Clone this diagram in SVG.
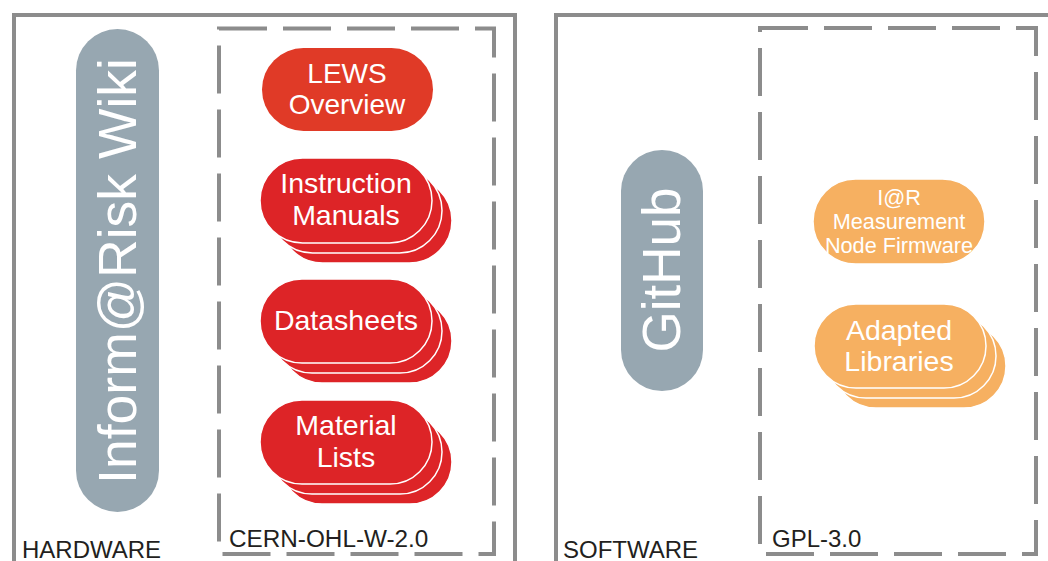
<svg xmlns="http://www.w3.org/2000/svg" width="1048" height="561" viewBox="0 0 1048 561">
<defs>
<style>
.outer{fill:none;stroke:#8c8c8c;stroke-width:4}
.dash{fill:none;stroke:#8c8c8c;stroke-width:4;stroke-dasharray:48 16}
.pill-gray{fill:#97a7b1}
.red{fill:#dd2427;stroke:#ffffff;stroke-width:1.5}
.lews{fill:#e03a27}
.orange{fill:#f6b061;stroke:#ffffff;stroke-width:1.5}
.t{font-family:"Liberation Sans",Arial,sans-serif;fill:#ffffff;text-anchor:middle}
.lbl{font-family:"Liberation Sans",Arial,sans-serif;fill:#231f20;font-size:24px}
</style>
</defs>
<rect width="1048" height="561" fill="#ffffff"/>
<g id="hardware-box">
<rect class="outer" x="14" y="15" width="501" height="600"/>
<text class="lbl" x="22" y="558" font-size="23.5">HARDWARE</text>
</g>
<g id="software-box">
<rect class="outer" x="556" y="15" width="600" height="600"/>
<text class="lbl" x="563" y="558" font-size="23.5">SOFTWARE</text>
</g>
<g id="cern-license">
<rect class="dash" x="219" y="28.5" width="275" height="525.5"/>
<text class="lbl" x="229" y="547" style="font-size:24.3px">CERN-OHL-W-2.0</text>
</g>
<g id="gpl-license">
<rect class="dash" x="760" y="28" width="276" height="526"/>
<text class="lbl" x="772" y="547">GPL-3.0</text>
</g>
<g id="wiki">
<rect class="pill-gray" x="76" y="29" width="83" height="483" rx="41.5"/>
<text class="t" transform="translate(136,271) rotate(-90)" font-size="53.5">Inform@Risk Wiki</text>
</g>
<g id="github">
<rect class="pill-gray" x="621" y="150" width="82" height="241" rx="41"/>
<text class="t" transform="translate(680,270) rotate(-90)" font-size="53">GitHub</text>
</g>
<g id="lews-overview">
<rect class="lews" x="262" y="48" width="171" height="83" rx="41.5"/>
<text class="t" x="347" y="83" font-size="28">LEWS</text>
<text class="t" x="347" y="114" font-size="28">Overview</text>
</g>
<g id="instruction-manuals">
<rect class="red" x="280" y="178" width="172" height="85" rx="42.5"/>
<rect class="red" x="270" y="168" width="172" height="85" rx="42.5"/>
<rect class="red" x="260" y="158" width="172" height="85" rx="42.5"/>
<text class="t" x="346" y="193" font-size="28.5">Instruction</text>
<text class="t" x="346" y="225" font-size="28.5">Manuals</text>
</g>
<g id="datasheets">
<rect class="red" x="280" y="299" width="172" height="84" rx="42"/>
<rect class="red" x="270" y="289" width="172" height="84" rx="42"/>
<rect class="red" x="260" y="279" width="172" height="84" rx="42"/>
<text class="t" x="346" y="330" font-size="28.5">Datasheets</text>
</g>
<g id="material-lists">
<rect class="red" x="280" y="420" width="172" height="84" rx="42"/>
<rect class="red" x="270" y="410" width="172" height="84" rx="42"/>
<rect class="red" x="260" y="400" width="172" height="84" rx="42"/>
<text class="t" x="346" y="435" font-size="28.5">Material</text>
<text class="t" x="346" y="467" font-size="28.5">Lists</text>
</g>
<g id="firmware">
<rect class="orange" x="813" y="179" width="172" height="85" rx="42.5" stroke="none"/>
<text class="t" x="899" y="205" font-size="21.7">I@R</text>
<text class="t" x="899" y="229" font-size="21.7">Measurement</text>
<text class="t" x="899" y="253" font-size="21.7">Node Firmware</text>
</g>
<g id="adapted-libraries">
<rect class="orange" x="834" y="324" width="172" height="84" rx="42"/>
<rect class="orange" x="824" y="314" width="172" height="84" rx="42"/>
<rect class="orange" x="814" y="304" width="172" height="84" rx="42"/>
<text class="t" x="899" y="340" font-size="28.5">Adapted</text>
<text class="t" x="899" y="371" font-size="28.5">Libraries</text>
</g>
<g id="connectors"></g>
</svg>
